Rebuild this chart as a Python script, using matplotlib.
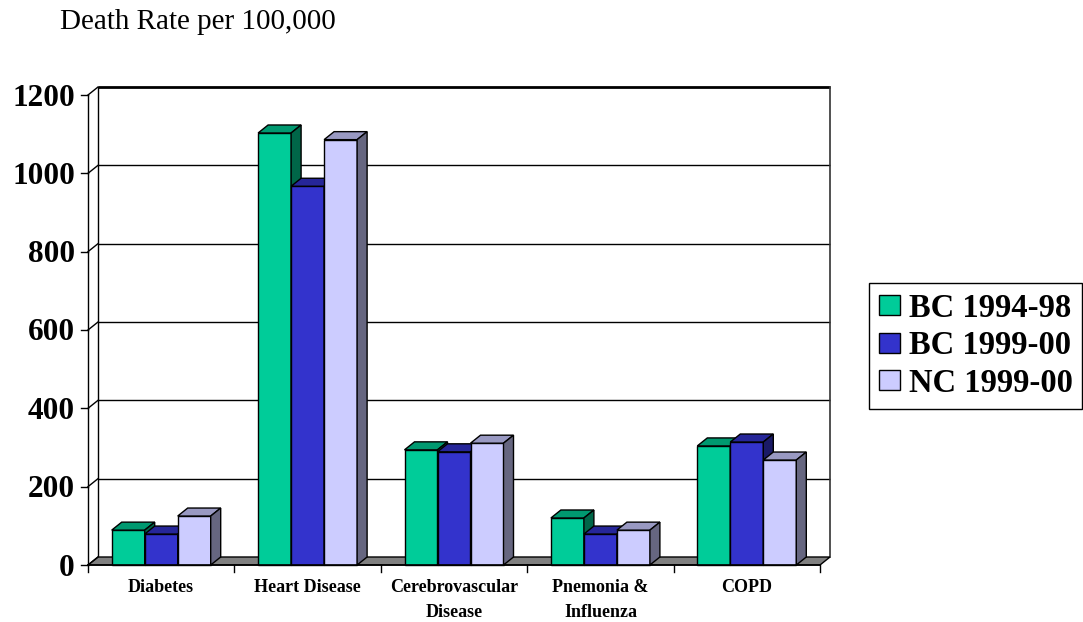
import matplotlib
matplotlib.use("Agg")
import matplotlib.pyplot as plt
from matplotlib.patches import Polygon, Patch

plt.rcParams['font.family'] = ['Liberation Serif', 'DejaVu Serif']

categories = ["Diabetes", "Heart Disease", "Cerebrovascular\nDisease",
              "Pnemonia &\nInfluenza", "COPD"]
series_names = ["BC 1994-98", "BC 1999-00", "NC 1999-00"]
bc_1994_98 = [89, 1103, 294, 120, 304]
bc_1999_00 = [79, 967, 289, 79, 314]
nc_1999_00 = [125, 1086, 311, 89, 268]
y_ticks = [0, 200, 400, 600, 800, 1000, 1200]

series = [bc_1994_98, bc_1999_00, nc_1999_00]
# front, top, side shade for each series
shades = [
    ("#00cc99", "#009970", "#006648"),
    ("#3333cc", "#262699", "#1a1a66"),
    ("#ccccff", "#9999c2", "#666680"),
]

W, H = 1083, 622
fig = plt.figure(figsize=(W / 100, H / 100), dpi=100)

# front plane of the plot box, in pixels from top-left
left, right, bottom, top = 88, 820, 565, 95
ax = fig.add_axes([left / W, 1 - bottom / H, (right - left) / W, (bottom - top) / H])
n = len(categories)
ymax = y_ticks[-1]
ax.set_xlim(0, n)
ax.set_ylim(0, ymax)
ax.axis('off')

# pixel -> data unit conversions
ux = n / (right - left)
uy = ymax / (bottom - top)
dx, dy = 10 * ux, 8 * uy  # depth offset of the 3d box

# back wall with gridlines
for t in y_ticks[1:]:
    lw = 2 if t == ymax else 1
    ax.plot([dx, n + dx], [t + dy, t + dy], color='black', lw=lw, zorder=1,
            clip_on=False, solid_capstyle='butt')
ax.plot([dx, dx], [dy, ymax + dy], color='black', lw=1, zorder=1, clip_on=False)
ax.plot([n + dx, n + dx], [dy, ymax + dy], color='#333333', lw=1.2, zorder=1, clip_on=False)

# floor
ax.add_patch(Polygon([(0, 0), (n, 0), (n + dx, dy), (dx, dy)], closed=True,
                     facecolor='#808080', edgecolor='black', lw=1, zorder=2, clip_on=False))

# value axis on the front plane
ax.plot([0, 0], [0, ymax], color='black', lw=1, zorder=2, clip_on=False)
for t in y_ticks:
    ax.plot([-7 * ux, 0], [t, t], color='black', lw=1, zorder=2, clip_on=False)
    ax.plot([0, dx], [t, t + dy], color='black', lw=1, zorder=2, clip_on=False)
    ax.text(-13 * ux, t - 3 * uy, str(t), ha='right', va='center', fontsize=22.5,
            fontweight='bold')

# category axis
ax.plot([0, n], [0, 0], color='black', lw=1.2, zorder=5, clip_on=False)
for i in range(n + 1):
    ax.plot([i, i], [0, -7 * uy], color='black', lw=1, zorder=5, clip_on=False)
for i, cat in enumerate(categories):
    ax.text(i + 0.5, -14 * uy, cat, ha='center', va='top', fontsize=13,
            fontweight='bold', linespacing=1.6)

# 3d bars
bw = 33 * ux
for i in range(n):
    x_start = i + 0.5 - 1.5 * bw
    for j, vals in enumerate(series):
        v = vals[i]
        x0, x1 = x_start + j * bw, x_start + (j + 1) * bw
        front, topc, side = shades[j]
        z = 3 + i * 0.1 + j * 0.01
        ax.add_patch(Polygon([(x0, 0), (x1, 0), (x1, v), (x0, v)], closed=True,
                             facecolor=front, edgecolor='black', lw=1, zorder=z,
                             clip_on=False))
        ax.add_patch(Polygon([(x0, v), (x1, v), (x1 + dx, v + dy), (x0 + dx, v + dy)],
                             closed=True, facecolor=topc, edgecolor='black', lw=1,
                             zorder=z, clip_on=False))
        ax.add_patch(Polygon([(x1, 0), (x1 + dx, dy), (x1 + dx, v + dy), (x1, v)],
                             closed=True, facecolor=side, edgecolor='black', lw=1,
                             zorder=z, clip_on=False))

fig.text(60 / W, 1 - 22 / H, "Death Rate per 100,000", ha='left', va='center',
         fontsize=21)

handles = [Patch(facecolor=s[0], edgecolor='black', lw=1) for s in shades]
leg = fig.legend(handles, series_names, loc='upper left',
                 bbox_to_anchor=(869 / W, 1 - 283 / H), borderaxespad=0,
                 prop=dict(weight='bold', size=23.5), frameon=True, fancybox=False,
                 edgecolor='black', framealpha=1, handlelength=0.64,
                 handleheight=0.55, handletextpad=0.28, borderpad=0.3,
                 labelspacing=0.2)
leg.get_frame().set_linewidth(1.0)

fig.savefig("out.png", dpi=100)
